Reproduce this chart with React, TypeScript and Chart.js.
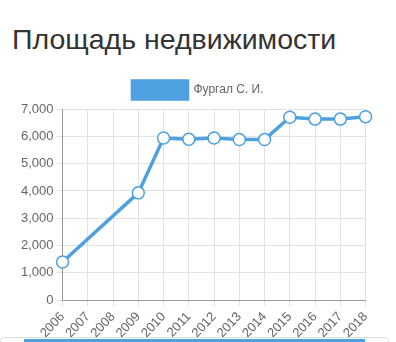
import React, { useEffect, useRef } from "react";
import { Chart, registerables } from "chart.js";

Chart.register(...registerables);

const TITLE = "Площадь недвижимости";
const SERIES_LABEL = "Фургал С. И.";
const YEARS = ["2006", "2007", "2008", "2009", "2010", "2011", "2012", "2013", "2014", "2015", "2016", "2017", "2018"];
const AREA = [1400, null, null, 3930, 5940, 5890, 5940, 5880, 5880, 6700, 6630, 6630, 6720];
const Y_MIN = 0;
const Y_MAX = 7000;
const Y_STEP = 1000;

const BLUE = "#4ea1de";
const FONT = "'Liberation Sans', Arial, sans-serif";

export default function App() {
  const ref = useRef<HTMLCanvasElement | null>(null);

  useEffect(() => {
    if (!ref.current) return;
    const chart = new Chart(ref.current, {
      type: "line",
      data: {
        labels: YEARS,
        datasets: [
          {
            label: SERIES_LABEL,
            data: AREA,
            borderColor: BLUE,
            backgroundColor: BLUE,
            borderWidth: 3.5,
            fill: false,
            tension: 0,
            spanGaps: true,
            pointRadius: 6,
            pointBorderWidth: 1.5,
            pointBackgroundColor: "#ffffff",
            pointBorderColor: BLUE,
          },
        ],
      },
      options: {
        animation: false,
        responsive: false,
        maintainAspectRatio: false,
        layout: { padding: { left: 0, right: 2, top: 0, bottom: 0 } },
        plugins: {
          legend: {
            display: true,
            labels: {
              boxWidth: 55,
              boxHeight: 18,
              color: "#666",
              font: { family: FONT, size: 12 },
            },
          },
          tooltip: { enabled: false },
        },
        scales: {
          x: {
            grid: { color: "#e2e2e2", tickLength: 6 },
            border: { color: "#999" },
            ticks: {
              color: "#666",
              font: { family: FONT, size: 13 },
              minRotation: 47,
              maxRotation: 47,
              autoSkip: false,
            },
          },
          y: {
            min: Y_MIN,
            max: Y_MAX,
            grid: { color: "#e2e2e2", tickLength: 6 },
            border: { color: "#999" },
            ticks: {
              stepSize: Y_STEP,
              color: "#666",
              font: { family: FONT, size: 13 },
            },
          },
        },
      },
    });
    return () => chart.destroy();
  }, []);

  return (
    <div style={{ position: "fixed", left: 0, top: 0, width: 396, height: 342, background: "#fff", overflow: "hidden" }}>
      <div
        style={{
          position: "absolute",
          left: 12,
          top: 22,
          fontFamily: FONT,
          fontSize: 28.5,
          color: "#333",
          lineHeight: "34px",
          whiteSpace: "nowrap",
        }}
      >
        {TITLE}
      </div>
      <canvas ref={ref} width={362} height={273} style={{ position: "absolute", left: 18, top: 71, width: 362, height: 273 }} />
      <div
        style={{
          position: "absolute",
          left: 0,
          top: 337,
          width: 389,
          height: 10,
          border: "1px solid #ddd",
          borderRadius: 4,
          boxSizing: "border-box",
        }}
      />
      <div style={{ position: "absolute", left: 24, top: 339, width: 341, height: 5, background: BLUE }} />
    </div>
  );
}
